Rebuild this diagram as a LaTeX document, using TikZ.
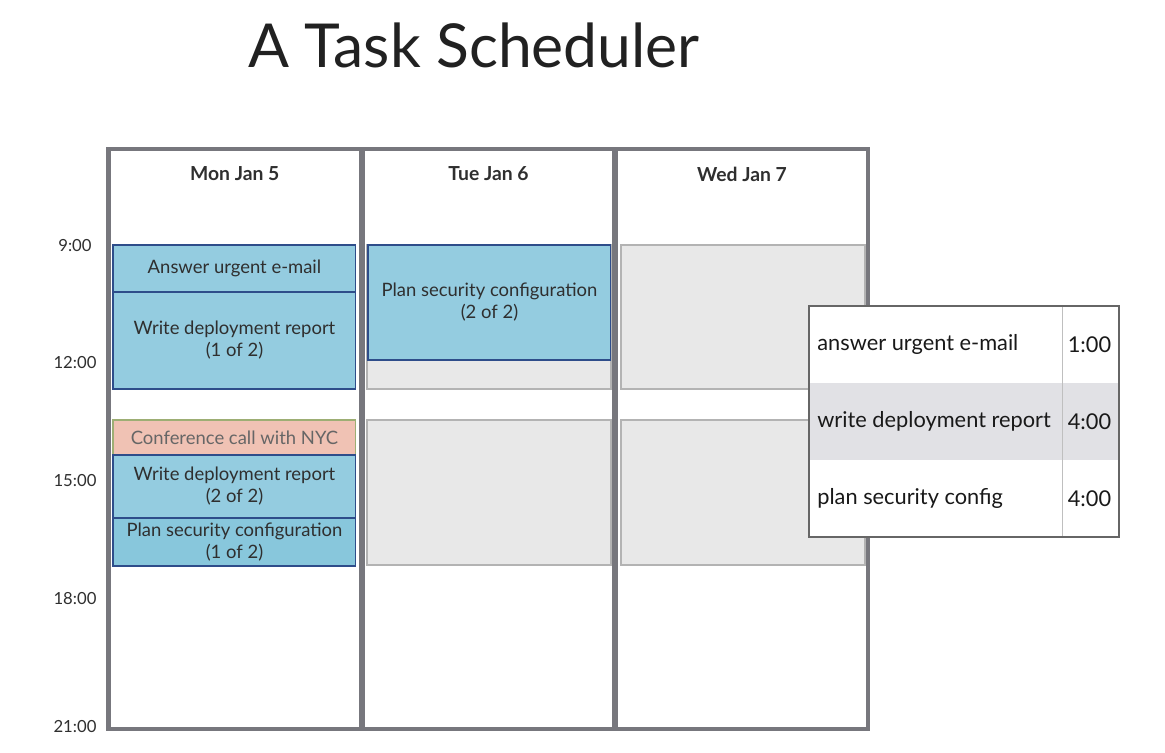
\documentclass[tikz,border=0pt]{standalone}
\usepackage{fontspec}
\setmainfont{Lato}
\usepackage{xcolor}
\usetikzlibrary{positioning,fit}
\definecolor{framegray}{HTML}{77777D}
\definecolor{taskblue}{HTML}{94CCE0}
\definecolor{taskblue2}{HTML}{88C7DC}
\definecolor{taskline}{HTML}{2E4D8A}
\definecolor{callpink}{HTML}{F0C2B4}
\definecolor{callline}{HTML}{9DAE74}
\definecolor{busygray}{HTML}{E8E8E8}
\definecolor{busyline}{HTML}{B3B3B3}
\definecolor{rowgray}{HTML}{E1E1E5}
\definecolor{textdark}{HTML}{2F2F2F}
\tikzset{%
	daycol/.style   = {draw=framegray, line width=2.8pt, inner sep=0pt, outer sep=0pt},
	daylbl/.style   = {font=\bfseries\fontsize{11}{13}\selectfont, text=textdark},
	hourlbl/.style  = {font=\fontsize{9.5}{11}\selectfont, text=textdark},
	task/.style     = {draw=taskline, fill=taskblue, line width=0.6pt, inner sep=0pt, outer sep=0pt, anchor=north west, minimum width=4.86cm, align=center, font=\fontsize{10.5}{12.5}\selectfont, text=textdark},
	meeting/.style  = {task, draw=callline, fill=callpink, text=black!60},
	busy/.style     = {draw=busyline, fill=busygray, line width=0.6pt, inner sep=0pt, outer sep=0pt},
	tabrow/.style   = {inner sep=0pt, outer sep=0pt},
	tabtxt/.style   = {font=\fontsize{12.4}{14}\selectfont, text=black!90, inner sep=0pt},
}

\begin{document}
\begin{tikzpicture}[x=0.02cm,y=-0.02cm]
	\useasboundingbox (0,0) rectangle (1165,753);
	\node [font=\fontsize{34.5}{40}\selectfont, text=black!87] (title) at (474,45) {A Task Scheduler};
	
	% free and busy slots
	\node [busy, fit={(367,245) (611,389)}] (tuebusy1) {};
	\node [busy, fit={(367,420) (611,565)}] (tuebusy2) {};
	\node [busy, fit={(621,245) (865,389)}] (wedbusy1) {};
	\node [busy, fit={(621,420) (865,565)}] (wedbusy2) {};
	
	% scheduled tasks
	\node [task, minimum height=0.94cm] (mail) at (113,245) {Answer urgent e-mail};
	\node [task, minimum height=1.94cm] (report1) at (113,292) {Write deployment report\\(1 of 2)};
	\node [meeting, minimum height=0.70cm] (call) at (113,420) {Conference call with NYC};
	\node [task, minimum height=1.26cm] (report2) at (113,455) {Write deployment report\\(2 of 2)};
	\node [task, fill=taskblue2, minimum height=0.96cm] (plan1) at (113,518) {Plan security configuration\\(1 of 2)};
	\node [task, minimum height=2.30cm] (plan2) at (368,245) {Plan security configuration\\(2 of 2)};
	
	% day columns
	\node [daycol, fit={(108.5,149) (361,729)}] (mon) {};
	\node [daycol, fit={(363,149) (614,729)}] (tue) {};
	\node [daycol, fit={(616,149) (868,729)}] (wed) {};
	\node [daylbl] (monhd) at ([yshift=-0.5cm]mon.north) {Mon Jan 5};
	\node [daylbl] (tuehd) at ([yshift=-0.5cm]tue.north) {Tue Jan 6};
	\node [daylbl] (wedhd) at ([yshift=-0.5cm]wed.north) {Wed Jan 7};
	
	% hours
	\node [hourlbl] (h9) at (75,246) {9:00};
	\node [hourlbl, on grid, below=2.34cm of h9] (h12) {12:00};
	\node [hourlbl, on grid, below=2.36cm of h12] (h15) {15:00};
	\node [hourlbl, on grid, below=2.36cm of h15] (h18) {18:00};
	\node [hourlbl, on grid, below=2.56cm of h18] (h21) {21:00};
	
	% task list
	\node [tabrow, fill=white, fit={(809,306) (1119,383)}] (row1) {};
	\node [tabrow, fill=rowgray, fit={(809,383) (1119,460)}] (row2) {};
	\node [tabrow, fill=white, fit={(809,460) (1119,537)}] (row3) {};
	\coordinate (sepTop) at (1062,306);
	\coordinate (sepBot) at (1062,537);
	\draw [black!25, line width=0.5pt] (sepTop) -- (sepBot);
	\node [tabrow, draw=black!60, line width=0.7pt, fit=(row1)(row3)] (tasks) {};
	\node [tabtxt, anchor=west] (n1) at ([xshift=0.16cm]row1.west) {answer urgent e-mail};
	\node [tabtxt, anchor=west] (n2) at ([xshift=0.16cm]row2.west) {write deployment report};
	\node [tabtxt, anchor=west] (n3) at ([xshift=0.16cm]row3.west) {plan security config};
	\node [tabtxt, anchor=east] (d1) at ([xshift=-0.15cm]row1.east) {1:00};
	\node [tabtxt, anchor=east] (d2) at ([xshift=-0.15cm]row2.east) {4:00};
	\node [tabtxt, anchor=east] (d3) at ([xshift=-0.15cm]row3.east) {4:00};
\end{tikzpicture}
\end{document}
